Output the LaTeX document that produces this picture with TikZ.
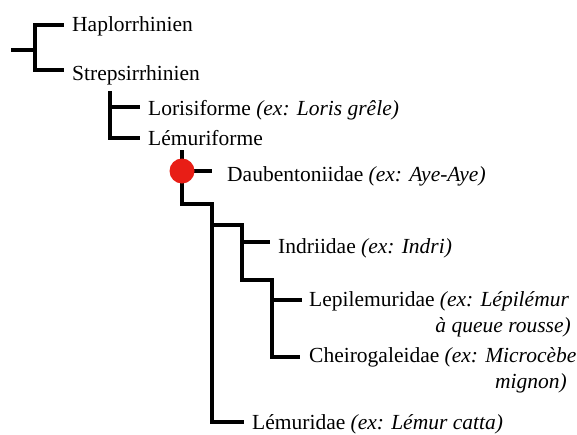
\documentclass[tikz,border=0pt]{standalone}
\usepackage{fontspec}
\setmainfont{Liberation Serif}
\definecolor{dotred}{RGB}{232,30,22}
\begin{document}
\begin{tikzpicture}[x=1pt,y=-1pt,
  branch/.style={line width=3.9pt,line join=miter,line cap=rect,black},
  lbl/.style={anchor=base west,inner sep=0pt,font=\fontsize{21.5pt}{26pt}\selectfont,text=black},
  lblr/.style={anchor=base east,inner sep=0pt,font=\fontsize{21.5pt}{26pt}\selectfont,text=black}]
\useasboundingbox[fill=white] (0,0) rectangle (577,434);
% labels
\node[lbl] (haplo) at (72,31) {Haplorrhinien};
\node[lbl] (strep) at (72,80.5) {Strepsirrhinien};
\node[lbl] (loris) at (148,115) {Lorisiforme \textit{(ex: Loris grêle)}};
\node[lbl] (lemuf) at (148,145) {Lémuriforme};
\node[lbl] (daub) at (227,181.5) {Daubentoniidae \textit{(ex: Aye-Aye)}};
\node[lbl] (indri) at (278,253.5) {Indriidae \textit{(ex: Indri)}};
\node[lbl] (lepil) at (309,306.5) {Lepilemuridae \textit{(ex: Lépilémur}};
\node[lblr] (lepilb) at (571,332) {\textit{à queue rousse)}};
\node[lbl] (cheiro) at (309,362) {Cheirogaleidae \textit{(ex: Microcèbe}};
\node[lblr] (cheirob) at (567,388) {\textit{mignon)}};
\node[lbl] (lemur) at (252,429.5) {Lémuridae \textit{(ex: Lémur catta)}};
% junction coordinates
\coordinate (r0) at (13,50);
\coordinate (r1) at (35,50);
\coordinate (r1t) at (35,25);
\coordinate (r1b) at (35,70);
\coordinate (eh) at (62,25);
\coordinate (es) at (62,70);
\coordinate (s0) at (110,93);
\coordinate (s1) at (110,107);
\coordinate (s2) at (110,138);
\coordinate (elo) at (138,107);
\coordinate (ele) at (138,138);
\coordinate (l0) at (182,152);
\coordinate (dot) at (182,171);
\coordinate (eda) at (210,171);
\coordinate (l1) at (182,204);
\coordinate (l2) at (212,204);
\coordinate (l3) at (212,225);
\coordinate (l4) at (212,422);
\coordinate (elm) at (242,422);
\coordinate (i0) at (242,225);
\coordinate (i1) at (242,242);
\coordinate (ein) at (268,242);
\coordinate (i2) at (242,280);
\coordinate (c0) at (272,280);
\coordinate (c1) at (272,300);
\coordinate (elp) at (300,300);
\coordinate (c2) at (272,357);
\coordinate (ech) at (298,357);
% branches
\draw[branch] (r0) -- (r1);
\draw[branch] (eh) -- (r1t) -- (r1b) -- (es);
\draw[branch] (s0) -- (s2) -- (ele);
\draw[branch] (s1) -- (elo);
\draw[branch] (l0) -- (l1) -- (l2) -- (l4) -- (elm);
\draw[branch] (dot) -- (eda);
\draw[branch] (l3) -- (i0) -- (i2) -- (c0) -- (c2) -- (ech);
\draw[branch] (i1) -- (ein);
\draw[branch] (c1) -- (elp);
\fill[dotred] (dot) circle[radius=12.5];
\end{tikzpicture}
\end{document}
